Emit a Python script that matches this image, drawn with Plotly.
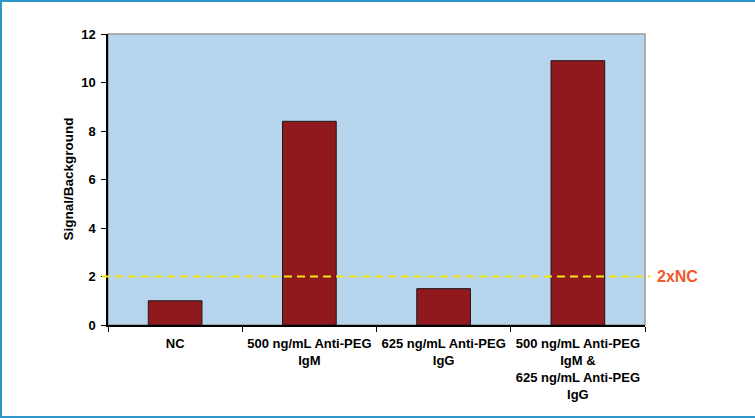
import plotly.graph_objects as go

categories = [
    "NC",
    "500 ng/mL Anti-PEG<br>IgM",
    "625 ng/mL Anti-PEG<br>IgG",
    "500 ng/mL Anti-PEG<br>IgM &<br>625 ng/mL Anti-PEG<br>IgG",
]
signal_background = [1.0, 8.4, 1.5, 10.9]
threshold = 2.0          # twice the negative control
y_ticks = [0, 2, 4, 6, 8, 10, 12]

W, H = 755, 418
L, R, T, B = 108, 110, 34, 93
pw = W - L - R
ph = H - T - B

font = "Liberation Sans, Arial, sans-serif"

fig = go.Figure(
    go.Bar(
        x=categories,
        y=signal_background,
        width=0.4,
        marker=dict(color="#8f191d", line=dict(color="#1a1a1a", width=1)),
    )
)

# helpers converting pixel offsets from the plot area into paper units
def px_x(p):
    return (p - L) / pw

def px_y(p):
    return (H - B - p) / ph

shapes = [
    # plot area frame (grey top / right)
    dict(type="rect", xref="paper", yref="paper", x0=0, x1=1, y0=0, y1=1,
         line=dict(color="#9a9a9a", width=1.5), layer="below"),
    # threshold line
    dict(type="line", xref="paper", yref="y", x0=px_x(102), x1=px_x(650),
         y0=threshold, y1=threshold,
         line=dict(color="#f2e614", width=2, dash="8px,5px")),
    # outer frame of the figure
    dict(type="line", xref="paper", yref="paper", x0=px_x(0), x1=px_x(W),
         y0=px_y(1), y1=px_y(1), line=dict(color="#2f97c8", width=2)),
    dict(type="line", xref="paper", yref="paper", x0=px_x(1), x1=px_x(1),
         y0=px_y(0), y1=px_y(H), line=dict(color="#2f97c8", width=2)),
    dict(type="line", xref="paper", yref="paper", x0=px_x(0), x1=px_x(W),
         y0=px_y(H - 1), y1=px_y(H - 1), line=dict(color="#2f97c8", width=2)),
]

annotations = [
    dict(text="<b>2xNC</b>", xref="paper", yref="y", x=px_x(655), y=threshold,
         xanchor="left", yanchor="middle", showarrow=False,
         font=dict(family=font, size=16, color="#f1592a")),
    dict(text="<b>Signal/Background</b>", xref="paper", yref="paper",
         x=px_x(68), y=0.5, xanchor="center", yanchor="middle",
         textangle=-90, showarrow=False,
         font=dict(family=font, size=13.5, color="#000000")),
]

fig.update_layout(
    width=W, height=H,
    margin=dict(l=L, r=R, t=T, b=B, autoexpand=False),
    paper_bgcolor="#ffffff",
    plot_bgcolor="#b7d5ed",
    showlegend=False,
    shapes=shapes,
    annotations=annotations,
    font=dict(family=font, size=13, color="#000000"),
    bargap=0.6,
)

fig.update_xaxes(
    type="category",
    tickson="boundaries",
    ticks="outside", ticklen=5, tickcolor="#000000", tickwidth=1,
    showline=True, linecolor="#000000", linewidth=1.5,
    showgrid=False, zeroline=False,
    tickfont=dict(family=font, size=13, color="#000000", weight="bold"),
    ticklabelstandoff=6,
    automargin=False,
)

fig.update_yaxes(
    range=[0, 12],
    tickvals=y_ticks,
    ticktext=[str(v) for v in y_ticks],
    ticks="outside", ticklen=5, tickcolor="#000000", tickwidth=1,
    showline=True, linecolor="#000000", linewidth=1.5,
    showgrid=False, zeroline=False,
    tickfont=dict(family=font, size=13, color="#000000", weight="bold"),
    ticklabelstandoff=3,
    automargin=False,
)

fig.write_html("out.html")
